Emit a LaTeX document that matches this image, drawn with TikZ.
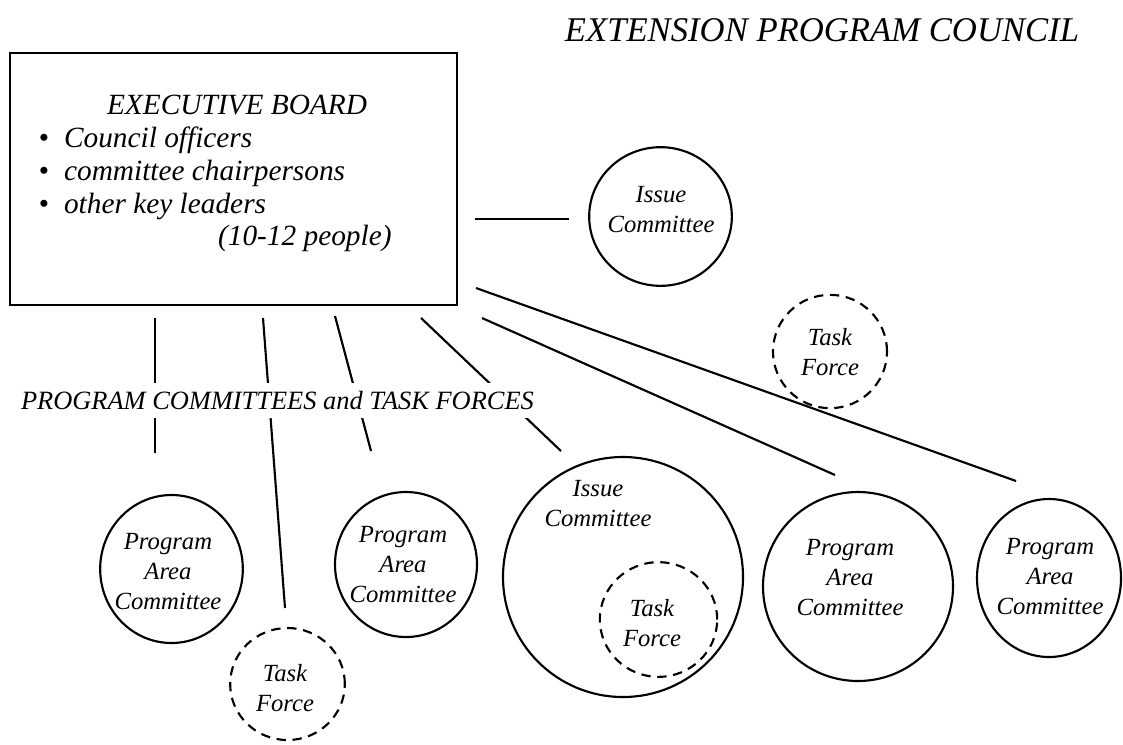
\documentclass[tikz,border=0pt]{standalone}
\usepackage{fontspec}
\setmainfont{Liberation Serif}
\usetikzlibrary{shapes.geometric}
\begin{document}
\begin{tikzpicture}[x=0.75pt,y=-0.75pt,line width=1.6pt,
  link/.style={line cap=butt},
  ring/.style 2 args={draw,ellipse,inner sep=0pt,minimum width=#1,minimum height=#2},
  dashring/.style 2 args={ring={#1}{#2},dash pattern=on 7pt off 5pt},
  ctext/.style={font=\itshape\fontsize{18.5}{22.5}\selectfont,align=center,inner sep=0pt},
  boardtext/.style={font=\itshape\fontsize{22}{24}\selectfont,inner sep=0pt},
]
\useasboundingbox (0,0) rectangle (1123,744);

% title
\node[font=\itshape\fontsize{26}{28}\selectfont,inner sep=0pt,anchor=base] (title) at (822,41) {EXTENSION PROGRAM COUNCIL};

% executive board
\node[draw,rectangle,inner sep=0pt,minimum width=335.25pt,minimum height=189pt] (board) at (233.5,179) {};
\node[boardtext,anchor=base] (boardhead) at (237,114) {EXECUTIVE BOARD};
\node[boardtext,anchor=base] (b1) at (44,147) {\textup{•}};
\node[boardtext,anchor=base] (b2) at (44,180) {\textup{•}};
\node[boardtext,anchor=base] (b3) at (44,213) {\textup{•}};
\node[boardtext,anchor=base west] (m1) at (63,147) {Council officers};
\node[boardtext,anchor=base west] (m2) at (63,180) {committee chairpersons};
\node[boardtext,anchor=base west] (m3) at (63,213) {other key leaders};
\node[boardtext,anchor=base west] (m4) at (217,245) {(10-12 people)};

% committees and task forces
\node[ring={107pt}{104pt}] (issueTop) at (660.5,216.5) {};
\node[ctext] (issueTopText) at (661,210) {Issue\\Committee};

\node[dashring={85.5pt}{85pt}] (tfTop) at (830,351.5) {};
\node[ctext] (tfTopText) at (830,352) {Task\\Force};

\node[ring={107pt}{111pt}] (pacA) at (171.5,569) {};
\node[ctext] (pacAText) at (168,572) {Program\\Area\\Committee};

\node[dashring={86pt}{84pt}] (tfLow) at (287.5,684) {};
\node[ctext] (tfLowText) at (285,688) {Task\\Force};

\node[ring={106.5pt}{108.75pt}] (pacB) at (406,564.5) {};
\node[ctext] (pacBText) at (403,565) {Program\\Area\\Committee};

\node[ring={180pt}{180pt}] (issueBig) at (623,577) {};
\node[ctext] (issueBigText) at (598,504) {Issue\\Committee};
\node[dashring={88pt}{86pt}] (tfIn) at (658.5,619.5) {};
\node[ctext] (tfInText) at (652,623) {Task\\Force};

\node[ring={142.5pt}{141.75pt}] (pacC) at (858,586.5) {};
\node[ctext] (pacCText) at (850,578) {Program\\Area\\Committee};

\node[ring={108pt}{118.5pt}] (pacD) at (1049,578) {};
\node[ctext] (pacDText) at (1050,577) {Program\\Area\\Committee};

% connector ends
\coordinate (g0) at (475,219);  \coordinate (g1) at (569,219);
\coordinate (a0) at (155,318);  \coordinate (a1) at (155,453);
\coordinate (c0) at (263,318);  \coordinate (c1) at (285,608);
\coordinate (d0) at (335,316);  \coordinate (d1) at (371,451);
\coordinate (e0) at (421,318);  \coordinate (e1) at (561,451);
\coordinate (f0) at (482,318);  \coordinate (f1) at (835,475);
\coordinate (h0) at (476,288);  \coordinate (h1) at (1016,481);

\draw[link] (g0) -- (g1);
\draw[link] (a0) -- (a1);
\draw[link] (c0) -- (c1);
\draw[link] (d0) -- (d1);
\draw[link] (e0) -- (e1);
\draw[link] (f0) -- (f1);
\draw[link] (h0) -- (h1);

% group label, set over the connectors
\node[font=\itshape\fontsize{19.8}{22}\selectfont,fill=white,inner xsep=0pt,
      minimum height=26.25pt,anchor=west] (groupLabel) at (20,400.5)
      {PROGRAM COMMITTEES and TASK FORCES};
\end{tikzpicture}
\end{document}
